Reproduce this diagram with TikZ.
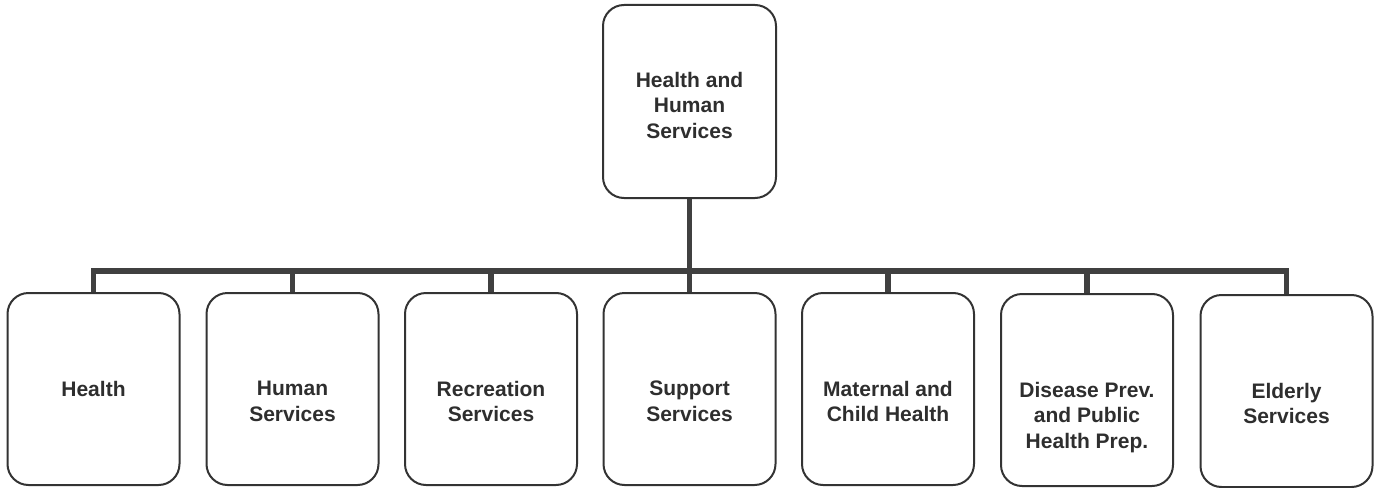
\documentclass[tikz,border=0pt]{standalone}
\usepackage{fontspec}
\setmainfont{Liberation Sans}
\begin{document}
\begin{tikzpicture}[x=1pt,y=-1pt,
  unit/.style={draw=black!80, line width=2pt, rounded corners=21pt,
    minimum width=172pt, minimum height=192pt, inner sep=0pt},
  caption/.style={anchor=north, inner sep=0pt, align=center, text=black!82,
    font=\fontsize{21}{25.5}\selectfont\bfseries},
  link/.style={draw=black!75, line width=5.5pt}]
  \useasboundingbox (0,0) rectangle (1378,487);

  % head office
  \node[unit, minimum width=173pt, minimum height=193pt] (top) at (689.5,101.5) {};
  \node[caption] (ttop) at (689.5,72) {Health and\\Human\\Services};

  % divisions
  \node[unit] (h1) at (93.5,389)   {};
  \node[unit] (h2) at (292.5,389)  {};
  \node[unit] (h3) at (491,389)    {};
  \node[unit] (h4) at (689.5,389)  {};
  \node[unit] (h5) at (888,389)    {};
  \node[unit] (h6) at (1087,390)   {};
  \node[unit] (h7) at (1286.5,391) {};

  \node[caption] (t1) at (93.5,381)   {Health};
  \node[caption] (t2) at (292.5,381)  {Human\\Services};
  \node[caption] (t3) at (491,381)    {Recreation\\Services};
  \node[caption] (t4) at (689.5,381)  {Support\\Services};
  \node[caption] (t5) at (888,381)    {Maternal and\\Child Health};
  \node[caption] (t6) at (1087,382)   {Disease Prev.\\and Public\\Health Prep.};
  \node[caption] (t7) at (1286.5,383) {Elderly\\Services};

  % connectors
  \coordinate (bus) at (0,271);
  \draw[link, line cap=butt] (h1.north) -- (h1.north |- bus) -- (h7.north |- bus) -- (h7.north);
  \draw[link] (top.south) -- (h4.north);
  \foreach \n in {h2,h3,h5,h6}
    \draw[link] (\n.north) -- (\n.north |- bus);
\end{tikzpicture}
\end{document}
